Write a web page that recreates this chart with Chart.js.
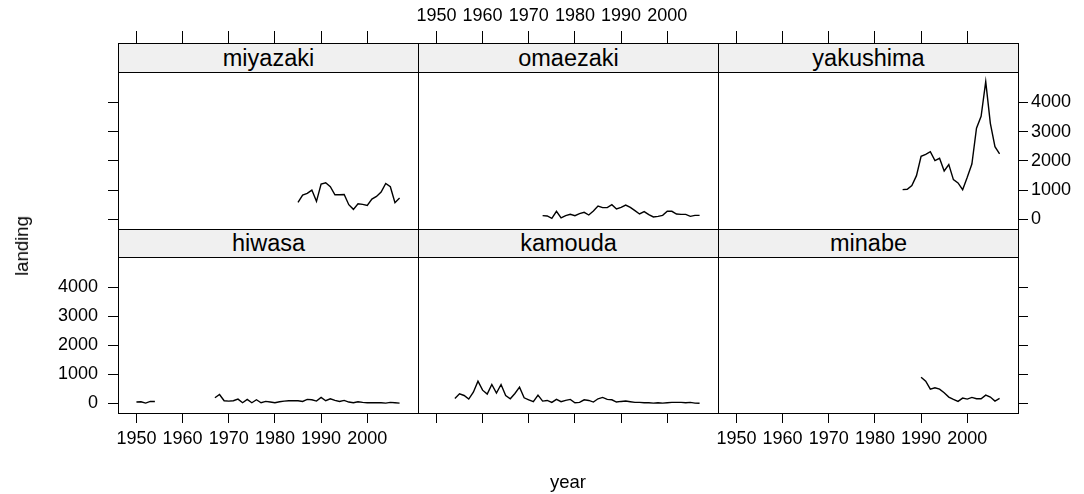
<!DOCTYPE html>
<html>
<head>
<meta charset="utf-8">
<script src="https://cdn.jsdelivr.net/npm/chart.js@4/dist/chart.umd.min.js"></script>
<style>
html,body{margin:0;padding:0;background:#fff;}
#wrap{position:relative;width:1084px;height:494px;overflow:hidden;font-family:"Liberation Sans",Arial,sans-serif;background:#fff;}
#wrap canvas{position:absolute;left:0;top:0;}
.strip{position:absolute;background:#f0f0f0;border:1px solid #000;box-sizing:border-box;text-align:center;color:#000;z-index:5;white-space:nowrap;}
.title{position:absolute;color:#000;white-space:nowrap;z-index:6;}
</style>
</head>
<body>
<div id="wrap"></div>
<script>
// ---------------- data ----------------
const stations = ['miyazaki', 'omaezaki', 'yakushima', 'hiwasa', 'kamouda', 'minabe'];
const xTicks = [1950, 1960, 1970, 1980, 1990, 2000];
const yTicks = [0, 1000, 2000, 3000, 4000];
const xTitle = 'year';
const yTitle = 'landing';

// first year of each series (consecutive yearly values follow)
const miyazakiFrom = 1985;
const miyazaki = [580, 830, 886, 1000, 614, 1205, 1250, 1114, 841, 841, 850, 500, 341, 534, 511, 477, 693, 784, 932, 1227, 1114, 568, 727];

const omaezakiFrom = 1973;
const omaezaki = [126, 115, 35, 274, 47, 126, 171, 126, 194, 240, 149, 285, 455, 399, 399, 501, 354, 410, 490, 410, 297, 183, 263, 160, 81, 103, 137, 274, 274, 183, 171, 171, 103, 137, 137];

const yakushimaFrom = 1986;
const yakushima = [1015, 1026, 1151, 1493, 2155, 2223, 2314, 2006, 2086, 1653, 1870, 1357, 1243, 1015, 1436, 1892, 3112, 3523, 4708, 3283, 2485, 2234];

const hiwasaFrom = 1950;
const hiwasa = [46, 57, 11, 68, 68,
  null, null, null, null, null, null, null, null, null, null, null, null,
  193, 307, 91, 80, 91, 148, 23, 137, 23, 125, 23, 68, 46, 23, 57, 80, 91, 91, 91, 68, 137, 125, 80, 205, 91, 159, 102, 68, 102, 46, 23, 57, 34, 23, 23, 23, 23, 11, 34, 23, 11];

const kamoudaFrom = 1954;
const kamouda = [171, 330, 273, 148, 387, 762, 455, 319, 649, 353, 649, 273, 159, 341, 558, 193, 125, 57, 285, 80, 102, 34, 137, 57, 102, 137, 23, 34, 125, 102, 46, 159, 205, 137, 125, 46, 68, 80, 57, 34, 34, 23, 23, 11, 23, 11, 23, 34, 34, 34, 23, 34, 11, 5];

const minabeFrom = 1990;
const minabe = [902, 765, 491, 537, 491, 365, 217, 137, 68, 183, 148, 205, 160, 160, 285, 217, 80, 171];

const seriesValues = [miyazaki, omaezaki, yakushima, hiwasa, kamouda, minabe];
const seriesFrom = [miyazakiFrom, omaezakiFrom, yakushimaFrom, hiwasaFrom, kamoudaFrom, minabeFrom];

// ---------------- layout ----------------
const W = 1084, H = 494;
const colLeft = [118, 418, 718];
const panelW = 300;
const stripTop = [43, 229];
const rowTop = [72, 257];
const rowBottom = [229, 413];
const xMin = 1946.01, xMax = 2010.99;
const yMin = -330, yMax = 5035;
const AX = 60;
const TOPPAD = 1;
const FONT = '"Liberation Sans", Arial, sans-serif';
const tickFont = { family: FONT, size: 18 };

const wrap = document.getElementById('wrap');

function setTicks(list) { return s => { s.ticks = list.map(v => ({ value: v })); }; }

function axis(opts) {
  return {
    type: 'linear',
    position: opts.position,
    min: opts.horizontal ? xMin : yMin,
    max: opts.horizontal ? xMax : yMax,
    afterFit: opts.horizontal ? (s => { s.height = opts.size; }) : (s => { s.width = opts.size; }),
    afterBuildTicks: setTicks(opts.list),
    border: { display: true, color: '#000', width: 1 },
    grid: {
      display: true,
      drawOnChartArea: false,
      drawTicks: opts.marks,
      tickLength: opts.tickLength,
      color: '#000',
      lineWidth: 1
    },
    ticks: {
      display: opts.labels,
      autoSkip: false,
      maxRotation: 0,
      minRotation: 0,
      padding: opts.padding,
      color: '#000',
      font: tickFont,
      callback: v => String(v)
    }
  };
}

stations.forEach((name, idx) => {
  const col = idx % 3, row = Math.floor(idx / 3);
  const L = colLeft[col], R = L + panelW;
  const T = rowTop[row], B = rowBottom[row];
  const vals = seriesValues[idx];
  const from = seriesFrom[idx];
  const points = vals.map((v, i) => ({ x: from + i, y: v }));

  const canvas = document.createElement('canvas');
  canvas.width = W; canvas.height = H;
  wrap.appendChild(canvas);

  const topSize = T - TOPPAD;

  new Chart(canvas, {
    type: 'line',
    data: {
      datasets: [{
        data: points,
        borderColor: '#000',
        borderWidth: 1.4,
        pointRadius: 0,
        pointHoverRadius: 0,
        fill: false,
        tension: 0,
        spanGaps: false,
        xAxisID: 'x',
        yAxisID: 'y'
      }]
    },
    options: {
      responsive: false,
      animation: false,
      devicePixelRatio: 1,
      events: [],
      layout: { padding: { left: L - AX, right: W - R - AX, top: TOPPAD, bottom: H - B - AX } },
      plugins: { legend: { display: false }, tooltip: { enabled: false } },
      scales: {
        x: axis({ position: 'bottom', horizontal: true, size: AX, marks: row === 1, labels: row === 1 && col !== 1, tickLength: 10, padding: 5, list: xTicks }),
        xTop: axis({ position: 'top', horizontal: true, size: topSize, marks: row === 0, labels: row === 0 && col === 1, tickLength: T - 31, padding: 4, list: xTicks }),
        y: axis({ position: 'left', horizontal: false, size: AX, marks: col === 0, labels: col === 0 && row === 1, tickLength: 10, padding: 10, list: yTicks }),
        yRight: axis({ position: 'right', horizontal: false, size: AX, marks: col === 2, labels: col === 2 && row === 0, tickLength: 10, padding: 3, list: yTicks })
      }
    }
  });

  const strip = document.createElement('div');
  strip.className = 'strip';
  const sh = T - stripTop[row] + 1;
  strip.style.left = L + 'px';
  strip.style.top = stripTop[row] + 'px';
  strip.style.width = (panelW + 1) + 'px';
  strip.style.height = sh + 'px';
  strip.style.lineHeight = (sh - 2) + 'px';
  strip.style.fontSize = '23.5px';
  strip.textContent = name;
  wrap.appendChild(strip);
});

const yt = document.createElement('div');
yt.className = 'title';
yt.textContent = yTitle;
yt.style.fontSize = '18.5px';
yt.style.left = '22px';
yt.style.top = '246px';
yt.style.transform = 'translate(-50%,-50%) rotate(-90deg)';
wrap.appendChild(yt);

const xt = document.createElement('div');
xt.className = 'title';
xt.textContent = xTitle;
xt.style.fontSize = '18.5px';
xt.style.left = '568px';
xt.style.top = '482px';
xt.style.transform = 'translate(-50%,-50%)';
wrap.appendChild(xt);
</script>
</body>
</html>
